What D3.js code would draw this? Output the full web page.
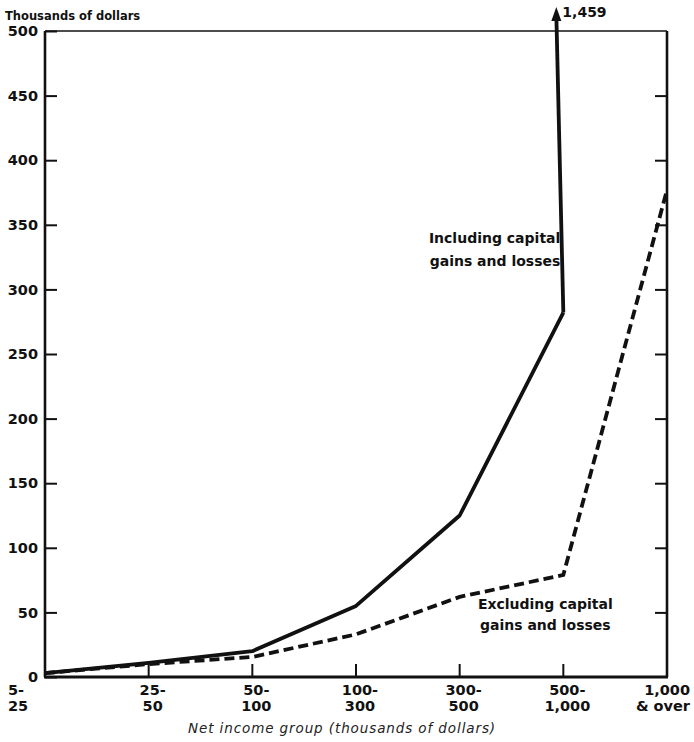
<!DOCTYPE html>
<html>
<head>
<meta charset="utf-8">
<script src="https://cdn.jsdelivr.net/npm/d3@7"></script>
<style>
  body { margin: 0; background: #fff; }
  svg { display: block; }
  .tick-label { font-family: "DejaVu Sans", sans-serif; font-weight: bold; font-size: 14.5px; fill: #111; }
  .note { font-family: "DejaVu Sans", sans-serif; font-weight: bold; font-size: 14px; fill: #111; }
</style>
</head>
<body>
<svg id="chart" width="694" height="742"></svg>
<script>
const categories = [['5-', '25'], ['25-', '50'], ['50-', '100'], ['100-', '300'],
  ['300-', '500'], ['500-', '1,000'], ['1,000', '& over']];
const includingGains = [3, 11, 20, 55, 125, 282, 1459];
const excludingGains = [3, 10, 15.5, 33, 62, 79, 377];
const yTicks = [0, 50, 100, 150, 200, 250, 300, 350, 400, 450, 500];

const margin = { top: 31, right: 27, bottom: 65, left: 45 };
const width = 694 - margin.left - margin.right;
const height = 742 - margin.top - margin.bottom;

const svg = d3.select('#chart');
const g = svg.append('g').attr('transform', `translate(${margin.left},${margin.top})`);

const x = d3.scalePoint()
  .domain(d3.range(categories.length))
  .range([0, width]);
const y = d3.scaleLinear()
  .domain([0, 500])
  .range([height, 0]);

// frame
g.append('line').attr('x1', 0).attr('x2', width).attr('y1', 0).attr('y2', 0)
  .attr('stroke', '#111').attr('stroke-width', 1.6);
g.append('line').attr('x1', 0).attr('x2', 0).attr('y1', 0).attr('y2', height)
  .attr('stroke', '#111').attr('stroke-width', 2.6);
g.append('line').attr('x1', width).attr('x2', width).attr('y1', 0).attr('y2', height)
  .attr('stroke', '#111').attr('stroke-width', 2.6);
g.append('line').attr('x1', -1).attr('x2', width + 1).attr('y1', height).attr('y2', height)
  .attr('stroke', '#111').attr('stroke-width', 2.8);

// left axis
const yAxis = d3.axisLeft(y).tickValues(yTicks).tickSize(-12).tickPadding(6);
g.append('g').call(yAxis)
  .call((s) => s.select('.domain').remove())
  .call((s) => s.selectAll('.tick line').attr('stroke', '#111').attr('stroke-width', 2))
  .call((s) => s.selectAll('.tick text').attr('class', 'tick-label').attr('x', -7));

// right axis ticks
const yAxisR = d3.axisRight(y).tickValues(yTicks.filter((d) => d > 0 && d < 500)).tickSize(-12).tickFormat('');
g.append('g').attr('transform', `translate(${width},0)`).call(yAxisR)
  .call((s) => s.select('.domain').remove())
  .call((s) => s.selectAll('.tick line').attr('stroke', '#111').attr('stroke-width', 2));

// bottom ticks
g.append('g')
  .selectAll('line')
  .data(d3.range(1, categories.length - 1))
  .join('line')
  .attr('x1', (d) => x(d)).attr('x2', (d) => x(d))
  .attr('y1', height).attr('y2', height - 13)
  .attr('stroke', '#111').attr('stroke-width', 2);

// bottom labels
const last = categories.length - 1;
const labelX = (i) => {
  if (i === 0) return x(i) - 37;
  if (i === last) return x(i) + 23;
  return x(i) + 4;
};
const xl = g.append('g')
  .attr('transform', `translate(0,${height})`)
  .selectAll('text')
  .data(categories)
  .join('text')
  .attr('class', 'tick-label')
  .attr('text-anchor', (d, i) => (i === 0 ? 'start' : (i === last ? 'end' : 'middle')))
  .attr('x', (d, i) => labelX(i));
xl.append('tspan').attr('dy', 18).text((d) => d[0]);
xl.append('tspan').attr('x', (d, i) => labelX(i)).attr('dy', 16).text((d) => d[1]);

// axis titles
svg.append('text')
  .attr('x', 5).attr('y', 20)
  .attr('class', 'note')
  .style('font-size', '11.5px')
  .text('Thousands of dollars');
svg.append('text')
  .attr('x', margin.left + width / 2 - 14).attr('y', 733)
  .attr('text-anchor', 'middle')
  .style('font-family', '"DejaVu Sans", sans-serif')
  .style('font-style', 'italic')
  .style('font-size', '13.5px')
  .style('letter-spacing', '0.9px')
  .style('fill', '#222')
  .text('Net income group (thousands of dollars)');

// lines
const line = d3.line().x((d, i) => x(i)).y((d) => y(d));
const visible = includingGains.slice(0, 6);
g.append('path')
  .datum(visible)
  .attr('d', line)
  .attr('fill', 'none')
  .attr('stroke', '#111')
  .attr('stroke-width', 3.8)
  .attr('stroke-linejoin', 'round');

g.append('path')
  .datum(excludingGains)
  .attr('d', line)
  .attr('fill', 'none')
  .attr('stroke', '#111')
  .attr('stroke-width', 3.8)
  .attr('stroke-dasharray', '10,5');

// off-scale arrow for 1,000 & over
const ax0 = x(5);
const ay0 = y(includingGains[5]);
const ax1 = x(5) - 7;
const ay1 = y(500) - 24;
g.append('line')
  .attr('x1', ax0).attr('y1', ay0).attr('x2', ax1).attr('y2', ay1 + 8)
  .attr('stroke', '#111').attr('stroke-width', 3.8);
g.append('path')
  .attr('d', `M${ax1},${ay1} L${ax1 - 5},${ay1 + 14} L${ax1 + 5},${ay1 + 14} Z`)
  .attr('fill', '#111');
g.append('text')
  .attr('class', 'note')
  .attr('x', ax1 + 6).attr('y', ay1 + 10)
  .text(d3.format(',')(includingGains[6]));

// annotations
const inc = g.append('text').attr('class', 'note').attr('text-anchor', 'end');
inc.append('tspan').attr('x', x(5) - 3).attr('y', y(336)).text('Including capital');
inc.append('tspan').attr('x', x(5) - 3).attr('y', y(318)).text('gains and losses');

const exc = g.append('text').attr('class', 'note').attr('text-anchor', 'middle');
exc.append('tspan').attr('x', x(5) - 18).attr('y', y(53)).text('Excluding capital');
exc.append('tspan').attr('x', x(5) - 18).attr('y', y(36)).text('gains and losses');
</script>
</body>
</html>
